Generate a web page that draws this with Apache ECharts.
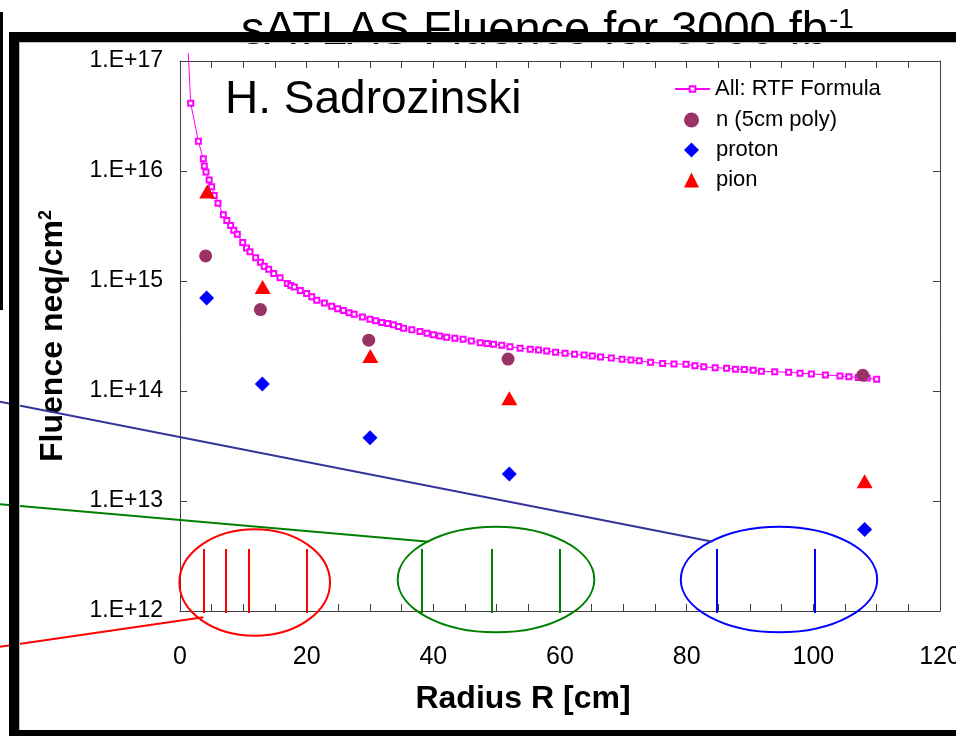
<!DOCTYPE html>
<html><head><meta charset="utf-8">
<script src="https://cdn.jsdelivr.net/npm/echarts@6/dist/echarts.min.js"></script>
<style>html,body{margin:0;padding:0;background:#fff;}#c{width:956px;height:736px;}</style>
</head><body><div id="c"></div>
<script>
const xTickLabels = [0, 20, 40, 60, 80, 100, 120];
const yTickLabels = ['1.E+12', '1.E+13', '1.E+14', '1.E+15', '1.E+16', '1.E+17'];

const rtfRadius = [1.3, 1.69, 2.9, 3.68, 3.84, 4.1, 4.6, 5.0, 5.4, 6.0,
  6.84, 7.4, 8.0, 8.5, 9.05, 9.9, 10.5, 11.05, 11.95, 12.7,
  13.3, 14.0, 14.8, 15.8, 16.95, 17.5, 18.05, 19.0, 20.0, 20.8,
  21.6, 22.8, 23.95, 24.9, 25.8, 26.7, 27.5, 28.8, 30.0, 30.9,
  31.85, 32.8, 33.7, 34.5, 35.3, 36.6, 37.9, 39.0, 40.0, 41.0,
  42.1, 43.4, 44.7, 46.0, 47.4, 48.5, 49.5, 50.8, 52.1, 53.7,
  55.3, 56.6, 57.9, 59.3, 60.8, 62.3, 63.8, 65.1, 66.4, 68.1,
  69.8, 71.2, 72.5, 74.3, 76.2, 78.0, 79.9, 81.3, 82.7, 84.5,
  86.3, 87.7, 89.1, 90.5, 91.8, 93.9, 96.1, 97.9, 99.7, 101.9,
  104.2, 105.6, 107.1, 108.5, 110.0];
const rtfFluence = [1.18e17, 4.12e16, 1.86e16, 1.29e16, 1.11e16, 9.8e15, 8.3e15, 7.2e15, 6.0e15, 5.1e15,
  4.0e15, 3.55e15, 3.2e15, 2.9e15, 2.66e15, 2.24e15, 2.0e15, 1.84e15, 1.63e15, 1.48e15,
  1.36e15, 1.28e15, 1.17e15, 1.07e15, 9.5e14, 9.1e14, 8.8e14, 8.2e14, 7.7e14, 7.2e14,
  6.7e14, 6.3e14, 5.9e14, 5.6e14, 5.4e14, 5.15e14, 4.98e14, 4.7e14, 4.5e14, 4.35e14,
  4.2e14, 4.1e14, 4.0e14, 3.86e14, 3.72e14, 3.6e14, 3.47e14, 3.35e14, 3.24e14, 3.16e14,
  3.08e14, 3.01e14, 2.95e14, 2.85e14, 2.75e14, 2.7e14, 2.66e14, 2.6e14, 2.53e14, 2.45e14,
  2.4e14, 2.36e14, 2.31e14, 2.25e14, 2.2e14, 2.16e14, 2.12e14, 2.08e14, 2.04e14, 2.0e14,
  1.94e14, 1.91e14, 1.88e14, 1.83e14, 1.78e14, 1.76e14, 1.75e14, 1.7e14, 1.66e14, 1.63e14,
  1.61e14, 1.58e14, 1.57e14, 1.54e14, 1.51e14, 1.5e14, 1.48e14, 1.45e14, 1.43e14, 1.4e14,
  1.37e14, 1.35e14, 1.33e14, 1.31e14, 1.28e14];

const nRadius = [4.05, 12.7, 29.8, 51.8, 107.8];
const nFluence = [1.69e15, 5.5e14, 2.9e14, 1.95e14, 1.39e14];
const protonRadius = [4.2, 13.0, 30.0, 52.0, 108.1];
const protonFluence = [7.0e14, 1.16e14, 3.76e13, 1.76e13, 5.5e12];
const pionRadius = [4.3, 13.05, 30.05, 52.0, 108.1];
const pionFluence = [6.5e15, 8.8e14, 2.08e14, 8.6e13, 1.51e13];

const redLayers = [3.7, 7.3, 10.8, 20.0];
const greenLayers = [38.1, 49.2, 60.0];
const blueLayers = [84.7, 100.3];
const layerSpan = [9.6e11, 3.67e12];

const FONT = 'Arial, "Liberation Sans", sans-serif';
const AX = '#404040';

const zip = (xs, ys) => xs.map((x, i) => [x, ys[i]]);
const rtfData = zip(rtfRadius, rtfFluence).map((p, i) => i === 0 ? { value: p, symbol: 'none' } : p);
const layerLines = xs => xs.map(x => ({ coords: [[x, layerSpan[0]], [x, layerSpan[1]]] }));

const chart = echarts.init(document.getElementById('c'), null, { renderer: 'canvas' });

const axisCommon = {
  axisLine: { show: true, onZero: false, lineStyle: { color: AX, width: 1 } },
  axisTick: { show: true, inside: true, length: 7, lineStyle: { color: AX, width: 1 } },
  splitLine: { show: false },
  minorTick: { show: false }
};

chart.setOption({
  animation: false,
  backgroundColor: '#fff',
  grid: { left: 180, right: 16, top: 61, bottom: 125, containLabel: false, outerBoundsMode: 'none' },
  xAxis: [
    Object.assign({}, axisCommon, {
      type: 'value', min: 0, max: 120, interval: 5, position: 'bottom',
      axisLabel: { margin: 34, fontSize: 25, color: '#000', fontFamily: FONT,
        formatter: v => xTickLabels.indexOf(v) >= 0 ? String(v) : '' },
      name: 'Radius R [cm]', nameLocation: 'middle', nameGap: 72,
      nameTextStyle: { fontSize: 32, fontWeight: 'bold', color: '#000', fontFamily: FONT, padding: [0, 74, 0, 0] }
    }),
    Object.assign({}, axisCommon, {
      type: 'value', min: 0, max: 120, interval: 5, position: 'top',
      axisLabel: { show: false }
    })
  ],
  yAxis: [
    Object.assign({}, axisCommon, {
      type: 'log', logBase: 10, min: 1e12, max: 1e17, position: 'left',
      axisLabel: { margin: 17, fontSize: 23, color: '#000', fontFamily: FONT,
        formatter: v => yTickLabels[Math.round(Math.log10(v)) - 12] || '' },
      name: '{a|Fluence neq/cm}{s|2}', nameLocation: 'middle', nameRotate: 90, nameGap: 111,
      nameTextStyle: { rich: {
        a: { fontSize: 32, fontWeight: 'bold', color: '#000', fontFamily: FONT },
        s: { fontSize: 18, fontWeight: 'bold', color: '#000', fontFamily: FONT, verticalAlign: 'top' }
      } }
    }),
    Object.assign({}, axisCommon, {
      type: 'log', logBase: 10, min: 1e12, max: 1e17, position: 'right',
      axisLabel: { show: false }
    })
  ],
  legend: [
    { data: ['All: RTF Formula'], orient: 'vertical', left: 674, top: 78, padding: 0,
      itemWidth: 35, itemHeight: 7, selectedMode: false,
      textStyle: { fontSize: 22, lineHeight: 22, color: '#000', fontFamily: FONT } },
    { data: ['n (5cm poly)', 'proton', 'pion'], orient: 'vertical', left: 684, top: 109, padding: 0,
      itemWidth: 15, itemHeight: 15, itemGap: 8, selectedMode: false,
      textStyle: { fontSize: 22, lineHeight: 22, color: '#000', fontFamily: FONT, padding: [0, 0, 0, 12] } }
  ],
  series: [
    { name: 'All: RTF Formula', type: 'line', data: rtfData, symbol: 'emptyRect', symbolSize: 5,
      clip: false, z: 3,
      itemStyle: { color: '#FF00FF', borderWidth: 1 },
      lineStyle: { color: '#FF00FF', width: 1 } },
    { name: 'n (5cm poly)', type: 'scatter', data: zip(nRadius, nFluence), symbol: 'circle', symbolSize: 13,
      itemStyle: { color: '#993366', opacity: 1 }, z: 4 },
    { name: 'proton', type: 'scatter', data: zip(protonRadius, protonFluence), symbol: 'diamond', symbolSize: 15,
      itemStyle: { color: '#0000FF', opacity: 1 }, z: 4 },
    { name: 'pion', type: 'scatter', data: zip(pionRadius, pionFluence), symbol: 'triangle', symbolSize: [16, 14],
      itemStyle: { color: '#FF0000', opacity: 1 }, z: 4 },
    { name: 'red layers', type: 'lines', coordinateSystem: 'cartesian2d', data: layerLines(redLayers),
      clip: false, lineStyle: { color: '#FF0000', width: 2, opacity: 1 }, z: 5 },
    { name: 'green layers', type: 'lines', coordinateSystem: 'cartesian2d', data: layerLines(greenLayers),
      clip: false, lineStyle: { color: '#008000', width: 2, opacity: 1 }, z: 5 },
    { name: 'blue layers', type: 'lines', coordinateSystem: 'cartesian2d', data: layerLines(blueLayers),
      clip: false, lineStyle: { color: '#0000FF', width: 2, opacity: 1 }, z: 5 }
  ],
  graphic: [
    { type: 'text', x: 241, y: 31, z: 12,
      style: { text: 'sATLAS Fluence for 3000 fb', fontSize: 47, fontFamily: FONT, fill: '#000', align: 'left', verticalAlign: 'middle' } },
    { type: 'text', x: 829, y: 20, z: 12,
      style: { text: '-1', fontSize: 28, fontFamily: FONT, fill: '#000', align: 'left', verticalAlign: 'middle' } },
    { type: 'text', x: 225, y: 100, z: 12,
      style: { text: 'H. Sadrozinski', fontSize: 46, fontFamily: FONT, fill: '#000', align: 'left', verticalAlign: 'middle' } },
    { type: 'ellipse', z: 10, shape: { cx: 254.7, cy: 582.5, rx: 75.3, ry: 53.2 },
      style: { fill: 'none', stroke: '#FF0000', lineWidth: 2 } },
    { type: 'ellipse', z: 10, shape: { cx: 496, cy: 579.5, rx: 98.3, ry: 52.8 },
      style: { fill: 'none', stroke: '#008000', lineWidth: 2 } },
    { type: 'ellipse', z: 10, shape: { cx: 779, cy: 579.5, rx: 98.2, ry: 52.8 },
      style: { fill: 'none', stroke: '#0000FF', lineWidth: 2 } },
    { type: 'line', z: 10, shape: { x1: 0, y1: 401.7, x2: 712.7, y2: 541.7 },
      style: { stroke: '#333399', lineWidth: 2 } },
    { type: 'line', z: 10, shape: { x1: 0, y1: 504.3, x2: 429, y2: 541.7 },
      style: { stroke: '#008000', lineWidth: 2 } },
    { type: 'line', z: 10, shape: { x1: 0, y1: 646.7, x2: 203.3, y2: 617.3 },
      style: { stroke: '#FF0000', lineWidth: 2 } },
    { type: 'rect', z: 20, shape: { x: 9, y: 32, width: 960, height: 10 }, style: { fill: '#000' } },
    { type: 'rect', z: 20, shape: { x: 9, y: 32, width: 10, height: 710 }, style: { fill: '#000' } },
    { type: 'rect', z: 20, shape: { x: 9, y: 730, width: 960, height: 10 }, style: { fill: '#000' } },
    { type: 'rect', z: 20, shape: { x: 0, y: 12, width: 3, height: 298 }, style: { fill: '#000' } },
    { type: 'line', z: 19, shape: { x1: 19.5, y1: 42, x2: 19.5, y2: 730 }, style: { stroke: '#bbbbbb', lineWidth: 1 } },
    { type: 'line', z: 19, shape: { x1: 19, y1: 42.5, x2: 960, y2: 42.5 }, style: { stroke: '#bbbbbb', lineWidth: 1 } }
  ]
});
</script>
</body></html>
